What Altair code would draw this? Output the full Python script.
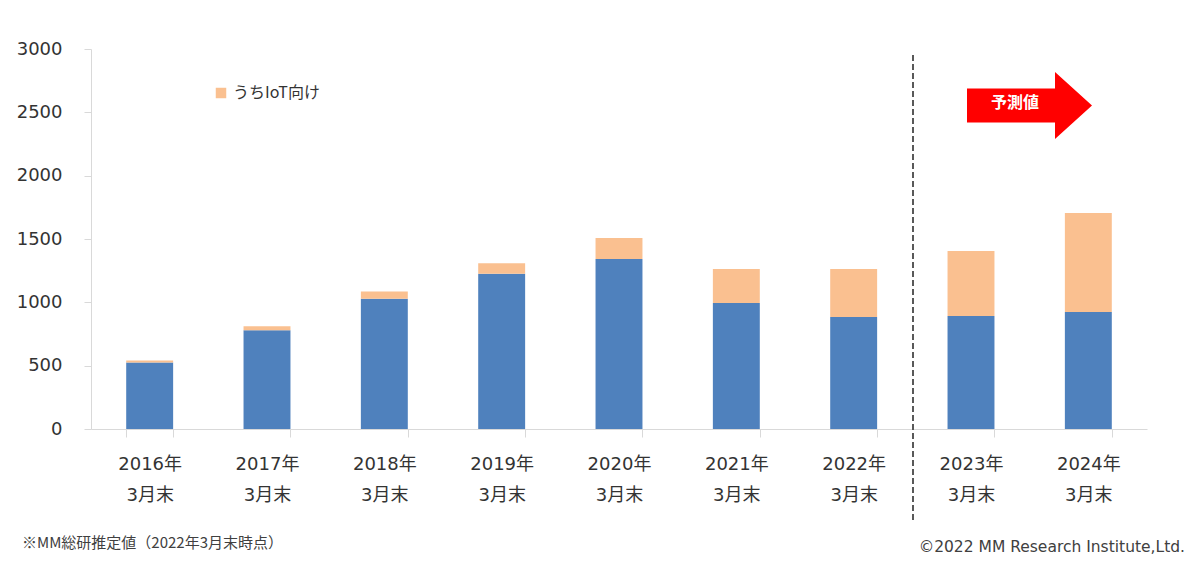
import altair as alt
import pandas as pd

years = ["2016年", "2017年", "2018年", "2019年", "2020年", "2021年", "2022年", "2023年", "2024年"]
base_vals = [525, 780, 1028, 1226, 1342, 995, 884, 892, 923]
iot_vals = [15, 32, 58, 82, 166, 268, 379, 513, 782]
series_names = ["その他", "うちIoT向け"]
colors = ["#4F81BD", "#FAC090"]

rows = []
for y, b, i in zip(years, base_vals, iot_vals):
    rows.append({"year": y, "series": series_names[0], "value": b, "ord": 0})
    rows.append({"year": y, "series": series_names[1], "value": i, "ord": 1})
df = pd.DataFrame(rows)

W, H = 1056, 380
FONT = "DejaVu Sans, Noto Sans CJK JP"
CJK = "Noto Sans CJK JP"

bars = alt.Chart(df).mark_bar().encode(
    x=alt.X("year:N", sort=years, title=None,
            scale=alt.Scale(paddingInner=0.6, paddingOuter=0.3),
            axis=alt.Axis(labelAngle=0,
                          labelExpr="datum.label ? [datum.label, '3月末'] : ''",
                          labelFontSize=18, labelFont=FONT, labelColor="#333333",
                          labelLineHeight=31, labelBaseline="top",
                          tickBand="extent", tickSize=8, tickColor="#d9d9d9",
                          domainColor="#d9d9d9", labelPadding=18, grid=False)),
    y=alt.Y("value:Q", stack="zero", title=None,
            scale=alt.Scale(domain=[0, 3000], nice=False),
            axis=alt.Axis(values=[0, 500, 1000, 1500, 2000, 2500, 3000], format="d",
                          labelFontSize=18, labelFont=FONT, labelColor="#333333",
                          tickSize=7, tickColor="#d9d9d9", domainColor="#d9d9d9",
                          labelPadding=22, grid=False)),
    color=alt.Color("series:N", scale=alt.Scale(domain=series_names, range=colors),
                    legend=alt.Legend(values=["うちIoT向け"], title=None, orient="none",
                                      legendX=122, legendY=36, symbolType="square",
                                      symbolSize=110, labelFontSize=16, labelFont=CJK,
                                      labelColor="#333333", padding=0, symbolStrokeWidth=0)),
    order=alt.Order("ord:Q"),
)

one = pd.DataFrame({"a": [0]})

dash = alt.Chart(one).mark_rule(color="#595959", strokeWidth=2, strokeDash=[6, 3]).encode(
    x=alt.value(822), y=alt.value(6), y2=alt.value(471))

arrow_path = "M -1 -0.272 L 0.408 -0.272 L 0.408 -0.536 L 1 0 L 0.408 0.536 L 0.408 0.272 L -1 0.272 Z"
arrow = alt.Chart(one).mark_point(shape=arrow_path, filled=True, color="#FF0000",
                                  opacity=1, size=15625, strokeWidth=0).encode(
    x=alt.value(938.5), y=alt.value(56.5))

arrow_text = alt.Chart(one).mark_text(text="予測値", color="white", font=CJK, fontSize=16,
                                      fontWeight="bold", align="center", baseline="middle").encode(
    x=alt.value(924), y=alt.value(54))

note = alt.Chart(one).mark_text(text="※MM総研推定値（2022年3月末時点）", color="#404040", font=CJK,
                                fontSize=15, align="left", baseline="middle").encode(
    x=alt.value(-69), y=alt.value(494))

copy = alt.Chart(one).mark_text(text="©2022 MM Research Institute,Ltd.", color="#404040",
                                font="DejaVu Sans", fontSize=15.5, align="right",
                                baseline="middle").encode(
    x=alt.value(1094), y=alt.value(498))

chart = alt.layer(bars, dash, arrow, arrow_text, note, copy).properties(
    width=W, height=H,
    padding={"left": 91, "top": 49, "right": 53, "bottom": 143},
    autosize="none",
    background="white",
).configure_view(stroke=None, strokeWidth=0)

chart.save("out.html", embed_options={"renderer": "svg", "actions": False})
